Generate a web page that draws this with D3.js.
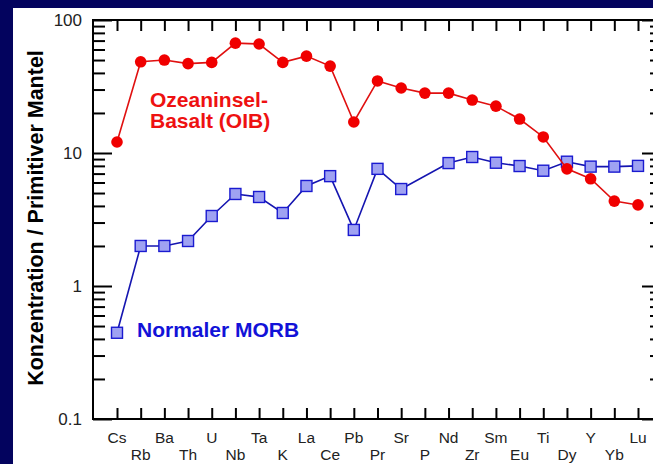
<!DOCTYPE html>
<html>
<head>
<meta charset="utf-8">
<script src="https://cdn.jsdelivr.net/npm/d3@7"></script>
<style>
  html, body { margin: 0; padding: 0; background: #03035e; }
  svg { display: block; }
  text { font-family: "Liberation Sans", Arial, sans-serif; }
</style>
</head>
<body>
<svg id="chart" width="653" height="464"></svg>
<script>
// Element order of the spider diagram (normalised to primitive mantle)
const elements = ["Cs","Rb","Ba","Th","U","Nb","Ta","K","La","Ce","Pb","Pr",
                  "Sr","P","Nd","Zr","Sm","Eu","Ti","Dy","Y","Yb","Lu"];

// Ocean island basalt (OIB)
const oibValues = [12.1, 48.5, 50, 47, 48, 67, 66, 48, 53.5, 45, 17.1, 34.8,
                   30.8, 28.2, 28.2, 25, 22.5, 18, 13.2, 7.6, 6.4, 4.35, 4.07];

// Normal MORB (no P value)
const morbValues = [0.445, 2.0, 2.0, 2.18, 3.36, 4.92, 4.67, 3.54, 5.65, 6.7, 2.64, 7.6,
                    5.36, null, 8.4, 9.33, 8.45, 7.98, 7.36, 8.6, 7.9, 7.9, 8.0];

const yMajorTicks = [0.1, 1, 10, 100];
const yTickLabels = ["0.1", "1", "10", "100"];

const svg = d3.select("#chart");

// white chart panel on the navy slide background
svg.append("rect").attr("x", 13).attr("y", 8).attr("width", 640).attr("height", 456)
  .attr("fill", "#ffffff");

const plotLeft = 93, plotRight = 654, plotTop = 20, plotBottom = 419;

const x = d3.scaleLinear().domain([0, elements.length - 1]).range([117, 638]);
const y = d3.scaleLog().domain([0.1, 100]).range([plotBottom, plotTop]);

const minorTicks = [];
[0.1, 1, 10].forEach(d => { for (let k = 2; k <= 9; k++) minorTicks.push(+(d * k).toPrecision(3)); });

const axisG = svg.append("g").attr("class", "axes");

function styleAxis(g) {
  g.selectAll("path.domain").remove();
  g.selectAll("line").attr("stroke", "#000").attr("stroke-width", 2);
  g.selectAll("text").remove();
}

// left axis: inward ticks
axisG.append("g").attr("transform", `translate(${plotLeft},0)`)
  .call(d3.axisRight(y).tickValues(minorTicks).tickSize(12).tickFormat(""))
  .call(styleAxis);
axisG.append("g").attr("transform", `translate(${plotLeft},0)`)
  .call(d3.axisRight(y).tickValues(yMajorTicks).tickSize(19).tickFormat(""))
  .call(styleAxis);

// right axis: short inward ticks
axisG.append("g").attr("transform", `translate(${plotRight},0)`)
  .call(d3.axisLeft(y).tickValues(minorTicks).tickSize(4).tickFormat(""))
  .call(styleAxis);
axisG.append("g").attr("transform", `translate(${plotRight},0)`)
  .call(d3.axisLeft(y).tickValues(yMajorTicks).tickSize(12).tickFormat(""))
  .call(styleAxis);

// top and bottom axes: inward ticks at each element
const idx = d3.range(elements.length);
axisG.append("g").attr("transform", `translate(0,${plotTop})`)
  .call(d3.axisBottom(x).tickValues(idx).tickSize(11).tickFormat(""))
  .call(styleAxis);
axisG.append("g").attr("transform", `translate(0,${plotBottom})`)
  .call(d3.axisTop(x).tickValues(idx).tickSize(11).tickFormat(""))
  .call(styleAxis);

// frame
axisG.append("rect").attr("x", plotLeft).attr("y", plotTop)
  .attr("width", plotRight - plotLeft).attr("height", plotBottom - plotTop)
  .attr("fill", "none").attr("stroke", "#000").attr("stroke-width", 2);

// y tick labels
svg.append("g").selectAll("text").data(yMajorTicks).join("text")
  .attr("x", 82).attr("y", d => y(d) + 6)
  .attr("text-anchor", "end").attr("font-size", 17).attr("fill", "#222")
  .text((d, i) => yTickLabels[i]);

// x tick labels, staggered on two rows
svg.append("g").selectAll("text").data(elements).join("text")
  .attr("x", (d, i) => x(i))
  .attr("y", (d, i) => i % 2 === 0 ? 443 : 460)
  .attr("text-anchor", "middle").attr("font-size", 15.5).attr("fill", "#222")
  .text(d => d);

// y axis title
svg.append("text")
  .attr("transform", "translate(43,218) rotate(-90)")
  .attr("text-anchor", "middle").attr("font-size", 21.5).attr("font-weight", "bold")
  .attr("fill", "#000")
  .text("Konzentration / Primitiver Mantel");

// series
const line = d3.line()
  .defined(d => d.v != null)
  .x(d => x(d.i)).y(d => y(d.v));

const morb = morbValues.map((v, i) => ({ i, v })).filter(d => d.v != null);
const oib = oibValues.map((v, i) => ({ i, v }));

svg.append("path").datum(morb).attr("d", line)
  .attr("fill", "none").attr("stroke", "#1515b0").attr("stroke-width", 1.6);
svg.append("g").selectAll("rect").data(morb).join("rect")
  .attr("x", d => x(d.i) - 5.5).attr("y", d => y(d.v) - 5.5)
  .attr("width", 11).attr("height", 11)
  .attr("fill", "#9fa2f2").attr("stroke", "#1a1ad0").attr("stroke-width", 1.4);

svg.append("path").datum(oib).attr("d", line)
  .attr("fill", "none").attr("stroke", "#e01010").attr("stroke-width", 1.6);
svg.append("g").selectAll("circle").data(oib).join("circle")
  .attr("cx", d => x(d.i)).attr("cy", d => y(d.v)).attr("r", 5.8)
  .attr("fill", "#f00000");

// series labels
const oibLabel = svg.append("text").attr("font-size", 21).attr("font-weight", "bold")
  .attr("fill", "#ee1111");
oibLabel.append("tspan").attr("x", 150).attr("y", 107).text("Ozeaninsel-");
oibLabel.append("tspan").attr("x", 150).attr("y", 128).text("Basalt (OIB)");

svg.append("text").attr("x", 137).attr("y", 337)
  .attr("font-size", 21).attr("font-weight", "bold").attr("fill", "#1212d8")
  .text("Normaler MORB");
</script>
</body>
</html>
